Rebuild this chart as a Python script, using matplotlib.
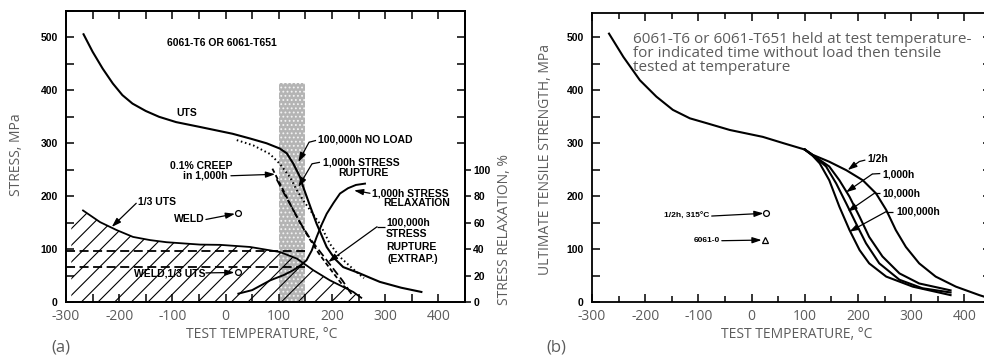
import matplotlib
matplotlib.use("Agg")
import matplotlib.pyplot as plt
from matplotlib.ticker import MultipleLocator

# ---------------- shared axis data ----------------
temp_ticks = [-300, -200, -100, 0, 100, 200, 300, 400]
temp_tick_labels = ["-300", "-200", "-100", "0", "100", "200", "300", "400"]
stress_ticks = [0, 100, 200, 300, 400, 500]
relax_ticks = [0, 20, 40, 60, 80, 100]
upper_right_ticks = [300, 350, 400, 450, 500]

# ---------------- (a) 6061-T6 design data ----------------
uts_T = [-267, -250, -231, -212, -194, -175, -150, -125, -93, -49, 13, 46, 77,
         102, 115, 127, 140, 146, 160, 171, 190, 205, 221, 250, 271, 290, 330, 368]
uts_S = [506, 473, 441, 413, 391, 375, 361, 350, 340, 331, 318, 309, 300,
         290, 281, 262, 236, 217, 178, 148, 104, 82, 66, 55, 46, 38, 27, 19]

noload_T = [21, 52, 83, 102, 121, 134, 146, 160, 177, 196, 215, 240, 260]
noload_S = [306, 296, 280, 261, 236, 211, 192, 172, 148, 110, 85, 62, 45]

creep_T = [88, 100, 115, 130, 150, 175, 200, 220, 234]
creep_S = [252, 228, 198, 168, 132, 92, 58, 32, 20]

rupture_T = [96, 110, 125, 140, 160, 180, 200, 220, 240]
rupture_S = [232, 205, 178, 150, 118, 92, 66, 40, 10]

relax_T = [24, 50, 84, 110, 127, 140, 152, 162, 171, 180, 190, 203, 215, 230, 245, 262]
relax_pct = [6.3, 9, 16.4, 20.5, 24, 27.5, 31.5, 39, 49, 58, 66.7, 75, 82, 86, 88.5, 89.5]

third_T = [-290, -268, -236, -205, -174, -142, -111, -48, -10, 46, 102, 134, 165,
           196, 228, 240, 255]
third_S = [150, 173, 151, 136, 123, 117, 113, 108.5, 108, 104, 94.5, 82, 60,
           41, 25, 19, 8]

weld_lines_S = [96, 67]
weld_lines_T = [-300, 150]

band_T = [100, 150]
band_top_S = 413

weld_T, weld_S = 24, 169
weld_third_T, weld_third_S = 24, 57

# ---------------- (b) exposure without load ----------------
common_T = [-268, -241, -210, -179, -148, -116, -85, -41, 21, 60, 100]
common_S = [507, 463, 419, 388, 363, 347, 338, 325, 312, 300, 288]

half_T = [100, 115, 146, 178, 209, 234, 253, 271, 290, 315, 346, 384, 428, 450]
half_S = [288, 278, 265, 249, 230, 205, 174, 136, 104, 73, 48, 29, 13, 6]

h1k_T = [100, 120, 146, 165, 184, 203, 221, 246, 278, 315, 374]
h1k_S = [288, 274, 256, 230, 199, 161, 123, 86, 54, 35, 22]

h10k_T = [100, 118, 140, 159, 178, 196, 215, 240, 278, 321, 374]
h10k_S = [288, 275, 256, 224, 186, 149, 111, 73, 42, 26, 18]

h100k_T = [100, 115, 128, 146, 165, 184, 203, 221, 253, 303, 374]
h100k_S = [288, 276, 262, 230, 180, 136, 98, 73, 48, 29, 13]

annealed_circle_T, annealed_circle_S = 28, 168
o_temper_T, o_temper_S = 25, 117

# ---------------- styling ----------------
GRAY = "#5c5c5c"
SANS = "Open Sans"
BOLD = dict(family="Liberation Sans", weight="bold", size=7.5, color="black")
plt.rcParams["hatch.linewidth"] = 0.8
plt.rcParams["hatch.color"] = "black"

fig = plt.figure(figsize=(9.84, 3.6), dpi=100, facecolor="white")
W, H = 984.0, 360.0
ax_a = fig.add_axes([66 / W, 1 - 302 / H, 399 / W, 291 / H])
ax_b = fig.add_axes([592 / W, 1 - 302 / H, 399 / W, 289 / H])


def style_frame(ax, ymax, minor_len):
    ax.set_xlim(-300, 450)
    ax.set_ylim(0, ymax)
    for s in ax.spines.values():
        s.set_linewidth(1.3)
    ax.set_xticks(temp_ticks)
    ax.set_xticklabels(temp_tick_labels, family=SANS, size=10, color=GRAY)
    ax.xaxis.set_minor_locator(MultipleLocator(50))
    ax.set_yticks(stress_ticks)
    ax.set_yticklabels([str(v) for v in stress_ticks], **BOLD)
    ax.yaxis.set_minor_locator(MultipleLocator(50))
    ax.tick_params(axis="x", which="major", direction="in", length=6, width=1.1,
                   top=True, pad=5)
    ax.tick_params(axis="x", which="minor", direction="in", length=minor_len,
                   width=1.1, top=True)
    ax.tick_params(axis="y", which="both", direction="in", length=6, width=1.1,
                   pad=6)


def leader(ax, xs, ys, tip):
    ax.plot(xs, ys, color="black", lw=0.9, solid_capstyle="butt", zorder=6)
    ax.annotate("", xy=tip, xytext=(xs[-1], ys[-1]),
                arrowprops=dict(arrowstyle="-|>,head_length=0.55,head_width=0.18",
                                color="black", lw=0.9, shrinkA=0, shrinkB=0),
                zorder=6)


def arrow(ax, start, tip):
    ax.annotate("", xy=tip, xytext=start,
                arrowprops=dict(arrowstyle="-|>,head_length=0.55,head_width=0.18",
                                color="black", lw=0.9, shrinkA=0, shrinkB=0),
                zorder=6)


# ================= panel (a) =================
style_frame(ax_a, 550, 6)
ax_a.tick_params(axis="y", which="both", right=False)

# stippled temperature band
ax_a.fill_between(band_T, 0, band_top_S, facecolor="#b4b4b4", hatch="....",
                  edgecolor="#f2f2f2", linewidth=0, zorder=1)
# hatched region below one third of UTS
ax_a.fill_between(third_T, 0, third_S, facecolor="none", hatch="//",
                  edgecolor="black", linewidth=0, zorder=1.5)

ax_a.plot(uts_T, uts_S, color="black", lw=1.5, zorder=4)
ax_a.plot(third_T[1:], third_S[1:], color="black", lw=1.3, zorder=4)
ax_a.plot(noload_T, noload_S, color="black", lw=1.4, ls=(0, (0.8, 1.4)),
          zorder=4)
ax_a.plot(creep_T, creep_S, color="black", lw=1.3, ls=(0, (2.5, 1.5)), zorder=4)
ax_a.plot(rupture_T, rupture_S, color="black", lw=1.3, ls=(0, (4.5, 2.0)),
          zorder=4)
for s in weld_lines_S:
    ax_a.plot(weld_lines_T, [s, s], color="black", lw=1.3, ls=(0, (5, 2.5)),
              zorder=3)
ax_a.plot([weld_T], [weld_S], marker="o", ms=4.2, mfc="white", mec="black",
          mew=0.9, zorder=5)
ax_a.plot([weld_third_T], [weld_third_S], marker="o", ms=4.2, mfc="white",
          mec="black", mew=0.9, zorder=5)

# stress relaxation on its own percentage scale (100 % = 250 MPa)
ax_rel = ax_a.twinx()
ax_rel.set_ylim(0, 220)
ax_rel.plot(relax_T, relax_pct, color="black", lw=1.4, zorder=4)
ax_rel.set_yticks(relax_ticks)
ax_rel.set_yticklabels([str(v) for v in relax_ticks], **BOLD)
ax_rel.tick_params(axis="y", direction="out", length=4, width=1.1, pad=2)
for s in ax_rel.spines.values():
    s.set_linewidth(1.3)
sec = ax_a.secondary_yaxis("right")
sec.set_yticks(upper_right_ticks)
sec.set_yticklabels([])
sec.tick_params(direction="in", length=6, width=1.1)
sec.spines["right"].set_linewidth(1.3)

ax_a.set_ylabel("STRESS, MPa", family=SANS, size=10, color=GRAY)
ax_a.yaxis.set_label_coords(-0.106, 0.505)
ax_a.set_xlabel("TEST TEMPERATURE, °C", family=SANS, size=10, color=GRAY)
ax_a.xaxis.set_label_coords(0.49, -0.085)
ax_rel.set_ylabel("STRESS RELAXATION, %", family=SANS, size=10, color=GRAY)
ax_rel.yaxis.set_label_coords(1.080, 0.25)

# annotations
ax_a.text(-110, 489, "6061-T6 OR 6061-T651", ha="left", va="center", **BOLD)
ax_a.text(-93, 357, "UTS", ha="left", va="center", **BOLD)
ax_a.text(-45, 257, "0.1% CREEP", ha="center", va="center", **BOLD)
ax_a.text(-39, 239.5, "in 1,000h", ha="center", va="center", **BOLD)
arrow(ax_a, (10, 238.6), (93, 241.4))
ax_a.text(-164.7, 188.5, "1/3 UTS", ha="left", va="center", **BOLD)
arrow(ax_a, (-168, 186.6), (-214, 141.8))
ax_a.text(-38.7, 156, "WELD", ha="right", va="center", **BOLD)
arrow(ax_a, (-37, 156), (17.7, 166.7))
ax_a.text(-38.7, 54.8, "WELD,1/3 UTS", ha="right", va="center", **BOLD)
arrow(ax_a, (-37, 55), (16.7, 55.8))

ax_a.text(174.2, 307, "100,000h NO LOAD", ha="left", va="center", **BOLD)
leader(ax_a, [170, 156.8], [305.4, 301.9], (136.7, 264.7))
ax_a.text(183.1, 263.5, "1,000h STRESS", ha="left", va="center", **BOLD)
ax_a.text(258.3, 243.9, "RUPTURE", ha="center", va="center", **BOLD)
leader(ax_a, [177.4, 162.4], [264.1, 261.2], (136.7, 217.4))
ax_a.text(274.6, 206, "1,000h STRESS", ha="left", va="center", **BOLD)
ax_a.text(359.2, 186.6, "RELAXATION", ha="center", va="center", **BOLD)
arrow(ax_a, (271.4, 205.5), (241.4, 211))
ax_a.text(301.5, 151.2, "100,000h", ha="left", va="center", **BOLD)
ax_a.text(301.5, 128, "STRESS", ha="left", va="center", **BOLD)
ax_a.text(301.5, 104, "RUPTURE", ha="left", va="center", **BOLD)
ax_a.text(305, 82, "(EXTRAP.)", ha="left", va="center", **BOLD)
leader(ax_a, [299.6, 284.6], [142.2, 142.2], (193, 75.6))

# ================= panel (b) =================
style_frame(ax_b, 546, 4)
ax_b.tick_params(axis="y", which="both", right=True)
ax_b.plot(common_T, common_S, color="black", lw=1.5, zorder=4)
for tt, ss in [(half_T, half_S), (h1k_T, h1k_S), (h10k_T, h10k_S),
               (h100k_T, h100k_S)]:
    ax_b.plot(tt, ss, color="black", lw=1.5, zorder=4)
ax_b.plot([annealed_circle_T], [annealed_circle_S], marker="o", ms=4.2,
          mfc="white", mec="black", mew=0.9, zorder=5)
ax_b.plot([o_temper_T], [o_temper_S], marker="^", ms=4.2, mfc="white",
          mec="black", mew=0.9, zorder=5)

ax_b.set_ylabel("ULTIMATE TENSILE STRENGTH, MPa", family=SANS, size=10,
                color=GRAY)
ax_b.yaxis.set_label_coords(-0.097, 0.493)
ax_b.set_xlabel("TEST TEMPERATURE, °C", family=SANS, size=10, color=GRAY)
ax_b.xaxis.set_label_coords(0.5125, -0.085)

note_lines = ["6061-T6 or 6061-T651 held at test temperature-",
              "for indicated time without load then tensile",
              "tested at temperature"]
for line, s in zip(note_lines, [488.7, 463.4, 437]):
    ax_b.text(-223, s, line, ha="left", va="baseline", family=SANS, size=11,
              color=GRAY)

SMALL = dict(BOLD, size=6)
ax_b.text(-78.7, 162.4, "1/2h, 315°C", ha="right", va="center", **SMALL)
arrow(ax_b, (-75, 162.4), (22.5, 167.5))
ax_b.text(-60, 115.8, "6061-0", ha="right", va="center", **SMALL)
arrow(ax_b, (-56, 115.8), (18.8, 117))

ax_b.text(218, 269.5, "1/2h", ha="left", va="center", **BOLD)
leader(ax_b, [213.8, 202.5], [268.2, 265.4], (180.6, 249.3))
ax_b.text(245.6, 241.8, "1,000h", ha="left", va="center", **BOLD)
leader(ax_b, [241.9, 226.9], [242.7, 241.8], (177.6, 207.3))
ax_b.text(245.6, 205.3, "10,000h", ha="left", va="center", **BOLD)
leader(ax_b, [241.9, 230.6], [205.3, 205.3], (180.6, 170.6))
ax_b.text(271.3, 170.6, "100,000h", ha="left", va="center", **BOLD)
leader(ax_b, [266.3, 252.6], [170.6, 170.6], (183.8, 132.8))

fig.text(61 / W, 1 - 347 / H, "(a)", ha="center", va="center", family=SANS,
         size=12, color=GRAY)
fig.text(556.5 / W, 1 - 347 / H, "(b)", ha="center", va="center", family=SANS,
         size=12, color=GRAY)

fig.savefig("out.png", dpi=100, facecolor="white")
